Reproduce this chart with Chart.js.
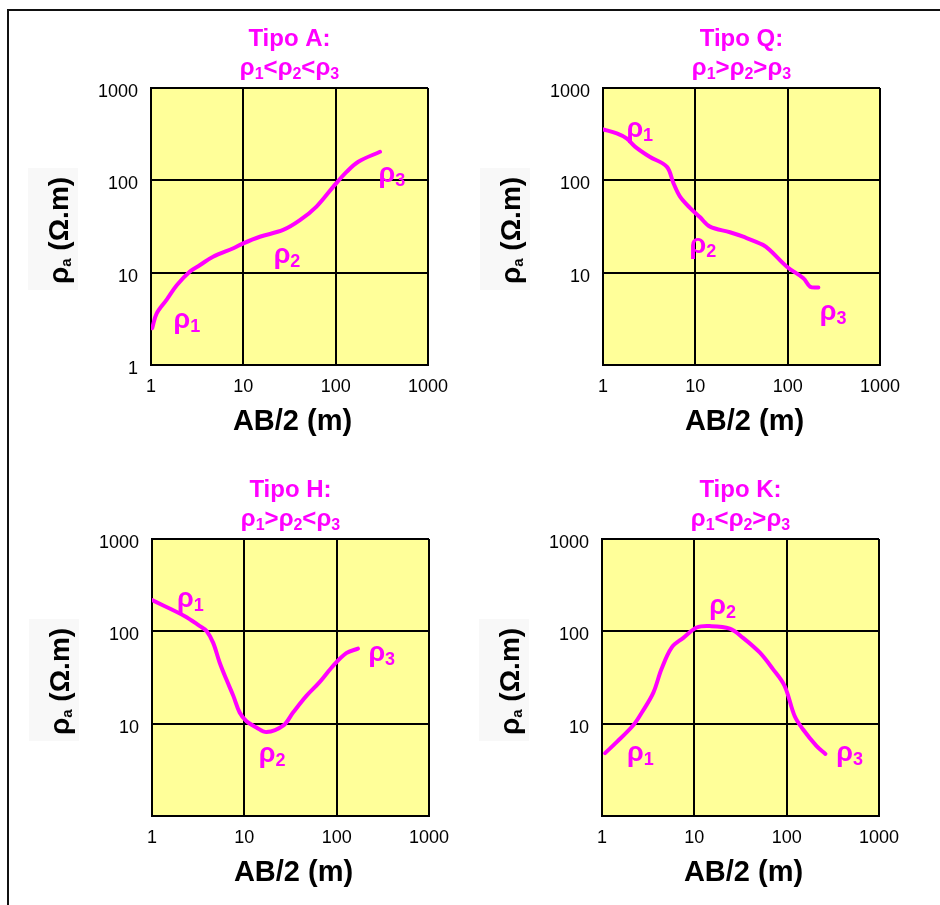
<!DOCTYPE html>
<html>
<head>
<meta charset="utf-8">
<script src="https://cdn.jsdelivr.net/npm/chart.js@4.4.1/dist/chart.umd.min.js"></script>
<style>
  body { margin: 0; background: #fff; }
  #frame { position: relative; width: 940px; height: 905px; overflow: hidden; }
  .edge { position: absolute; background: #111; }
  canvas { position: absolute; }
</style>
</head>
<body>
<div id="frame">
  <div class="edge" style="left:7px;top:9px;width:933px;height:2px"></div>
  <div class="edge" style="left:7px;top:9px;width:2px;height:896px"></div>
  <canvas id="chartA" width="470" height="450" style="left:0;top:0"></canvas>
  <canvas id="chartQ" width="470" height="450" style="left:452px;top:0"></canvas>
  <canvas id="chartH" width="470" height="450" style="left:1px;top:451px"></canvas>
  <canvas id="chartK" width="470" height="450" style="left:451px;top:451px"></canvas>
</div>
<script>
// axis decades (AB/2 and apparent resistivity)
const abTicks = [1, 10, 100, 1000]
const rhoTicks = [1, 10, 100, 1000]
const abTickText = ['1', '10', '100', '1000']
const rhoTickTextA = ['1', '10', '100', '1000']
const rhoTickTextOther = ['', '10', '100', '1000']

// Tipo A
const abA = [1.03, 1.15, 1.48, 1.9, 2.64, 3.4, 4.7, 7.8, 10, 15.1, 27, 41, 62, 94, 132, 176, 302]
const rhoA = [2.5, 3.6, 5.1, 7.3, 10.3, 12.1, 14.9, 18.4, 20.8, 24.5, 29, 37, 52, 85, 124, 159, 204]
const labAbA = [2.45, 29.7, 407]
const labRhoA = [2.85, 14.4, 109]

// Tipo Q
const abQ = [1.0, 1.41, 1.8, 2.22, 3.2, 4.9, 5.8, 6.8, 8.8, 11.2, 14.4, 23.7, 33, 54, 64, 98, 148, 175, 215]
const rhoQ = [357, 323, 285, 232, 180, 141, 93, 67, 50, 40, 31.5, 27.4, 24.5, 20, 17.6, 11.6, 8.7, 7.05, 6.9]
const labAbQ = [2.5, 12.1, 310]
const labRhoQ = [333, 18.5, 3.5]

// Tipo H
const abH = [1.0, 2.27, 3.3, 3.9, 4.6, 5.4, 6.4, 7.6, 8.9, 10.5, 13.5, 17.4, 26.3, 33.7, 47, 65, 91, 127, 170]
const rhoH = [218, 146, 114, 101, 75, 46, 30, 20, 13.2, 10.7, 9.1, 8.1, 9.5, 13.2, 20, 28, 42, 58, 65]
const labAbH = [2.6, 20, 308]
const labRhoH = [210, 4.35, 53.5]

// Tipo K
const abK = [1.08, 1.44, 2.18, 2.7, 3.6, 4.4, 5.7, 7.6, 10.6, 14.7, 24.2, 33.7, 51, 71, 95, 122, 150, 210, 263]
const rhoK = [4.8, 6.3, 9.6, 13.2, 21.7, 38.8, 67, 85, 110, 114, 107, 85, 59, 39, 25.6, 12.1, 8.7, 5.75, 4.7]
const labAbK = [2.6, 20.3, 480]
const labRhoK = [4.45, 173, 4.45]

const labSubs = ['1', '2', '3']

const MAGENTA = '#ff00ff'
const FONT = "'Liberation Sans', Arial, sans-serif"

// split 'ρ1<ρ2' into normal/subscript pieces: a digit or 'a' right after ρ is a subscript
function pieces(str) {
  const out = []
  let prev = ''
  for (const ch of str) {
    const sub = prev === 'ρ' && /[0-9a]/.test(ch)
    const last = out[out.length - 1]
    if (last && last.sub === sub) last.t += ch
    else out.push({ t: ch, sub })
    prev = ch
  }
  return out
}

function drawRich(ctx, str, x, y, size, subSize, drop) {
  const parts = pieces(str)
  let w = 0
  for (const p of parts) {
    ctx.font = `bold ${p.sub ? subSize : size}px ${FONT}`
    p.w = ctx.measureText(p.t).width
    w += p.w
  }
  let cx = x - w / 2
  ctx.textAlign = 'left'
  ctx.textBaseline = 'alphabetic'
  for (const p of parts) {
    ctx.font = `bold ${p.sub ? subSize : size}px ${FONT}`
    ctx.fillText(p.t, cx, p.sub ? y + drop : y)
    cx += p.w
  }
}

const decor = {
  id: 'decor',
  beforeDraw(chart) {
    const { ctx, chartArea: a } = chart
    ctx.save()
    ctx.fillStyle = '#f8f8f8'
    ctx.fillRect(a.left - 123, a.top + 80, 50, 122)
    ctx.fillStyle = '#ffff99'
    ctx.fillRect(a.left, a.top, a.right - a.left, a.bottom - a.top)
    ctx.restore()
  },
  afterDraw(chart) {
    const { ctx, chartArea: a, scales } = chart
    const o = chart.options.plugins.decor
    const cx = (a.left + a.right) / 2
    ctx.save()
    ctx.fillStyle = MAGENTA
    ctx.textAlign = 'center'
    ctx.font = `bold 24px ${FONT}`
    ctx.fillText(o.title, cx, a.top - 42)
    drawRich(ctx, o.relation, cx, a.top - 13, 24, 16, 4)

    for (let i = 0; i < o.labAb.length; i++) {
      const px = scales.x.getPixelForValue(o.labAb[i])
      const py = scales.y.getPixelForValue(o.labRho[i])
      drawRich(ctx, 'ρ' + labSubs[i], px, py + 5, 27, 18, 4)
    }

    ctx.fillStyle = '#000'
    ctx.textAlign = 'center'
    ctx.font = `bold 29px ${FONT}`
    ctx.fillText('AB/2 (m)', cx + 3, a.bottom + 65)

    ctx.translate(a.left - 83, (a.top + a.bottom) / 2 + 4)
    ctx.rotate(-Math.PI / 2)
    drawRich(ctx, 'ρa (Ω.m)', 0, 0, 28, 15, 3)
    ctx.restore()
  },
}

function makeChart(id, title, relation, ab, rho, rhoText, labAb, labRho) {
  return new Chart(document.getElementById(id), {
    type: 'line',
    data: {
      datasets: [{
        data: ab.map((v, i) => ({ x: v, y: rho[i] })),
        borderColor: MAGENTA,
        borderWidth: 4,
        tension: 0.35,
        pointRadius: 0,
        borderCapStyle: 'round',
        borderJoinStyle: 'round',
      }],
    },
    options: {
      responsive: false,
      animation: false,
      layout: { padding: { left: 91, top: 88, right: 42, bottom: 45 } },
      plugins: {
        legend: { display: false },
        tooltip: { enabled: false },
        decor: { title, relation, labAb, labRho },
      },
      scales: {
        x: {
          type: 'logarithmic',
          min: 1,
          max: 1000,
          afterBuildTicks: (s) => { s.ticks = abTicks.map((v) => ({ value: v })) },
          afterFit: (s) => { s.height = 40; s.paddingLeft = 0; s.paddingRight = 0 },
          ticks: {
            autoSkip: false,
            maxRotation: 0,
            padding: 11,
            color: '#000',
            font: { family: FONT, size: 18 },
            callback: (v) => abTickText[abTicks.indexOf(v)] ?? '',
          },
          grid: { color: '#000', lineWidth: 2, drawTicks: false },
          border: { color: '#000', width: 2 },
        },
        y: {
          type: 'logarithmic',
          min: 1,
          max: 1000,
          afterBuildTicks: (s) => { s.ticks = rhoTicks.map((v) => ({ value: v })) },
          afterFit: (s) => { s.width = 60; s.paddingTop = 0; s.paddingBottom = 0 },
          ticks: {
            autoSkip: false,
            padding: 13,
            labelOffset: 4,
            color: '#000',
            font: { family: FONT, size: 18 },
            callback: (v) => rhoText[rhoTicks.indexOf(v)] ?? '',
          },
          grid: { color: '#000', lineWidth: 2, drawTicks: false },
          border: { color: '#000', width: 2 },
        },
      },
    },
    plugins: [decor],
  })
}

makeChart('chartA', 'Tipo A:', 'ρ1<ρ2<ρ3', abA, rhoA, rhoTickTextA, labAbA, labRhoA)
makeChart('chartQ', 'Tipo Q:', 'ρ1>ρ2>ρ3', abQ, rhoQ, rhoTickTextOther, labAbQ, labRhoQ)
makeChart('chartH', 'Tipo H:', 'ρ1>ρ2<ρ3', abH, rhoH, rhoTickTextOther, labAbH, labRhoH)
makeChart('chartK', 'Tipo K:', 'ρ1<ρ2>ρ3', abK, rhoK, rhoTickTextOther, labAbK, labRhoK)
</script>
</body>
</html>
